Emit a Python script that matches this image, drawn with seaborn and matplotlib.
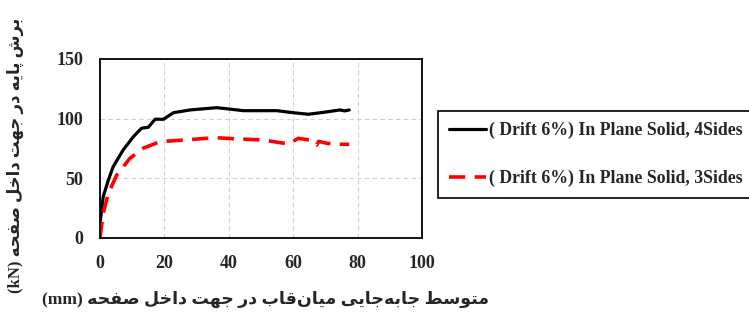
"""
Base shear vs. average infill displacement, in-plane direction.
"""

import matplotlib
matplotlib.use('Agg')
import matplotlib.pyplot as plt
import pandas as pd
import seaborn as sns

# 4 sides, drift 6% (black solid)
disp_4 = [0, 1.0, 2.6, 4.1, 7.2, 10.4, 12.9, 15.0, 17.1, 19.7, 22.8, 28.0, 31.0,
          36.2, 40.4, 44.5, 54.9, 60.0, 64.7, 69.4, 74.5, 76.0, 77.4]
shear_4 = [12, 34.6, 48.6, 59.8, 73.8, 85.0, 92.0, 92.8, 99.5, 99.5, 105.0, 107.3, 108.0,
           109.2, 108.0, 106.7, 106.7, 105.0, 103.7, 105.3, 107.3, 106.5, 107.3]

# 3 sides, drift 6% (red dashed)
disp_3 = [0, 1.0, 2.6, 5.2, 9.3, 13.4, 18.6, 25.9, 33.1, 36.2, 41.4, 50.7, 58.5,
          61.6, 65.2, 67.3, 67.9, 70.4, 74.0, 77.4]
shear_3 = [0, 20.7, 37.4, 52.8, 66.8, 75.2, 80.7, 82.1, 83.5, 84.0, 83.2, 82.1, 78.8,
           83.5, 82.1, 77.9, 81.0, 79.4, 78.5, 78.5]

labels = ['( Drift 6%) In Plane Solid, 4Sides', '( Drift 6%) In Plane Solid, 3Sides']
x_title = 'متوسط جابه\u200cجایی میان\u200cقاب در جهت داخل صفحه'
y_title = 'برش پایه در جهت داخل صفحه'

# contextual forms: isolated, final, initial, medial (None = right-joining only)
FORMS = {
    'ا': ('\uFE8D', '\uFE8E', None, None), 'ب': ('\uFE8F', '\uFE90', '\uFE91', '\uFE92'),
    'ت': ('\uFE95', '\uFE96', '\uFE97', '\uFE98'), 'ج': ('\uFE9D', '\uFE9E', '\uFE9F', '\uFEA0'),
    'ح': ('\uFEA1', '\uFEA2', '\uFEA3', '\uFEA4'), 'خ': ('\uFEA5', '\uFEA6', '\uFEA7', '\uFEA8'),
    'د': ('\uFEA9', '\uFEAA', None, None), 'ر': ('\uFEAD', '\uFEAE', None, None),
    'س': ('\uFEB1', '\uFEB2', '\uFEB3', '\uFEB4'), 'ش': ('\uFEB5', '\uFEB6', '\uFEB7', '\uFEB8'),
    'ص': ('\uFEB9', '\uFEBA', '\uFEBB', '\uFEBC'), 'ط': ('\uFEC1', '\uFEC2', '\uFEC3', '\uFEC4'),
    'ف': ('\uFED1', '\uFED2', '\uFED3', '\uFED4'), 'ق': ('\uFED5', '\uFED6', '\uFED7', '\uFED8'),
    'ل': ('\uFEDD', '\uFEDE', '\uFEDF', '\uFEE0'), 'م': ('\uFEE1', '\uFEE2', '\uFEE3', '\uFEE4'),
    'ن': ('\uFEE5', '\uFEE6', '\uFEE7', '\uFEE8'), 'ه': ('\uFEE9', '\uFEEA', '\uFEEB', '\uFEEC'),
    'و': ('\uFEED', '\uFEEE', None, None), 'پ': ('\uFB56', '\uFB57', '\uFB58', '\uFB59'),
    'ی': ('\uFBFC', '\uFBFD', '\uFBFE', '\uFBFF'),
}


def shape_persian(text):
    """Join letters with presentation forms and put them in visual order."""
    out = []
    for i, ch in enumerate(text):
        if ch not in FORMS:
            if ch != '\u200c':
                out.append(ch)
            continue
        prev = text[i - 1] if i > 0 else ''
        nxt = text[i + 1] if i + 1 < len(text) else ''
        join_prev = prev in FORMS and FORMS[prev][2] is not None
        join_next = FORMS[ch][2] is not None and nxt in FORMS
        iso, fin, ini, med = FORMS[ch]
        if join_prev and join_next:
            out.append(med)
        elif join_prev:
            out.append(fin)
        elif join_next:
            out.append(ini)
        else:
            out.append(iso)
    return ''.join(reversed(out))


sns.set_style('whitegrid')
plt.rcParams['font.family'] = ['Liberation Serif', 'DejaVu Sans']

fig = plt.figure(figsize=(7.49, 3.21), dpi=100)
ax = fig.add_axes([0.1335, 0.2586, 0.4299, 0.5576])

df4 = pd.DataFrame({'x': disp_4, 'y': shear_4})
df3 = pd.DataFrame({'x': disp_3, 'y': shear_3})
sns.lineplot(data=df4, x='x', y='y', ax=ax, color='black', lw=2.3,
             sort=False, label=labels[0])
sns.lineplot(data=df3, x='x', y='y', ax=ax, color='#ff0000', lw=2.6,
             sort=False, label=labels[1], dashes=False)
ax.lines[1].set_dashes((4.5, 2.6))

ax.set_xlim(0, 100)
ax.set_ylim(0, 150)
ax.set_xticks([0, 20, 40, 60, 80, 100])
ax.set_yticks([0, 50, 100, 150])
ax.grid(True, color='#cfcfcf', ls=(0, (4, 3)), lw=0.8)
for s in ax.spines.values():
    s.set_color('black')
    s.set_linewidth(1.3)
ax.tick_params(length=0, pad=12)
for t in ax.get_xticklabels() + ax.get_yticklabels():
    t.set_fontweight('bold')
    t.set_fontsize(13)

ax.set_xlabel('')
ax.set_ylabel('')
fig.text(0.355, 0.066, '(mm) ' + shape_persian(x_title), ha='center', va='center',
         fontsize=12.5, fontweight='bold', family=['Liberation Serif', 'DejaVu Sans'])
fig.text(0.02, 0.515, '(kN) ' + shape_persian(y_title), ha='center', va='center',
         rotation=90, fontsize=12, fontweight='bold',
         family=['Liberation Serif', 'DejaVu Sans'])

ax.get_legend().remove()
handles = ax.lines[:2]
leg = fig.legend(handles, labels, loc='upper left', bbox_to_anchor=(0.585, 0.654),
                 frameon=True, fancybox=False, edgecolor='black', framealpha=1,
                 prop={'family': 'Liberation Serif', 'weight': 'bold', 'size': 12.8},
                 handlelength=2.1, handletextpad=0.15, labelspacing=1.75,
                 borderpad=0.6, borderaxespad=0)
leg.get_frame().set_linewidth(1.2)

fig.savefig('out.png', dpi=100)
